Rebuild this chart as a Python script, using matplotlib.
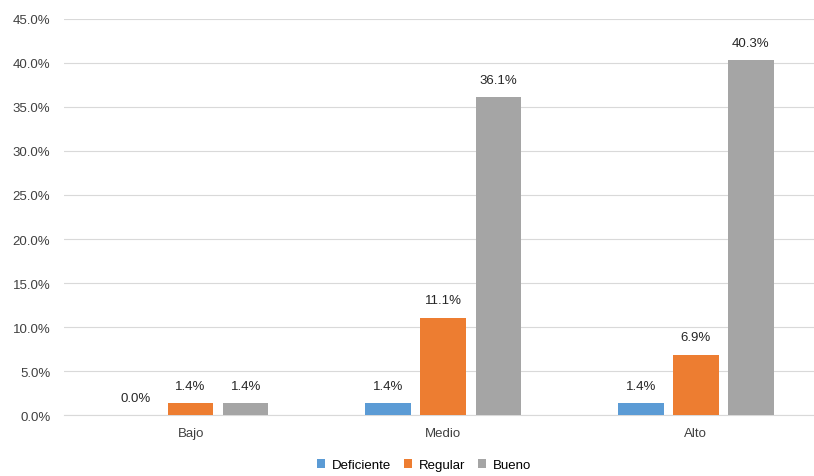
import numpy as np
import matplotlib.pyplot as plt

categories = ["Bajo", "Medio", "Alto"]
series_names = ["Deficiente", "Regular", "Bueno"]
deficiente = [0.0, 1.4, 1.4]
regular = [1.4, 11.1, 6.9]
bueno = [1.4, 36.1, 40.3]
colors = ["#5B9BD5", "#ED7D31", "#A5A5A5"]

plt.rcParams['font.family'] = ['Liberation Sans', 'DejaVu Sans']

fig = plt.figure(figsize=(8.14, 4.77), dpi=100)
ax = fig.add_axes([0.079, 0.127, 0.931, 0.832])

x = np.arange(len(categories))
width = 0.18
step = 0.218
for i, (name, vals) in enumerate(zip(series_names, [deficiente, regular, bueno])):
    pos = x + (i - 1) * step
    ax.bar(pos, vals, width=width, color=colors[i], label=name, zorder=3)
    for p, v in zip(pos, vals):
        ax.text(p, v + 1.3, f"{v:.1f}%", ha='center', va='bottom', fontsize=9.5, color='#262626')

ax.set_xlim(-0.5, 2.5)
ax.set_ylim(0, 45)
ax.set_yticks(np.arange(0, 46, 5))
ax.set_yticklabels([f"{t:.1f}%" for t in np.arange(0, 46, 5)])
ax.set_xticks(x)
ax.set_xticklabels(categories)
ax.tick_params(axis='both', length=0, labelsize=9.5, colors='#404040')
ax.tick_params(axis='y', pad=10)
ax.tick_params(axis='x', pad=8)
ax.grid(axis='y', color='#D9D9D9', linewidth=0.8, zorder=0)
for s in ['top', 'right', 'left']:
    ax.spines[s].set_visible(False)
ax.spines['bottom'].set_color('#D9D9D9')

fig.legend(loc='lower center', bbox_to_anchor=(0.521, -0.015), ncol=3, frameon=False,
           fontsize=9.5, handlelength=0.6, handleheight=0.6, columnspacing=1.0, handletextpad=0.5)

fig.savefig("out.png", dpi=100)
